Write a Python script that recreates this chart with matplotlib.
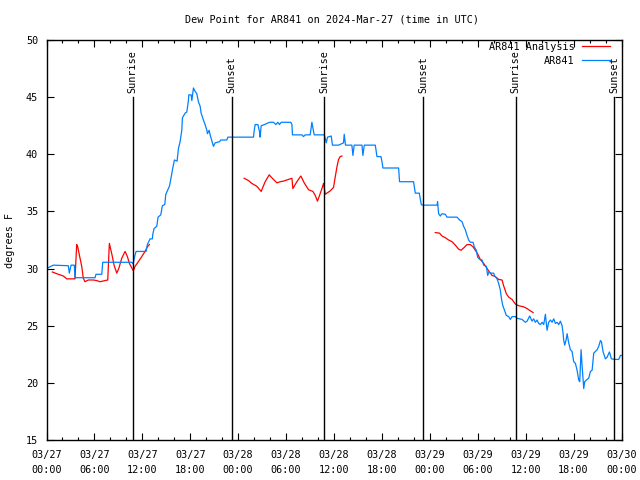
import matplotlib
matplotlib.use("Agg")
import matplotlib.pyplot as plt
import matplotlib.dates as mdates
import numpy as np

plt.rcParams['font.family'] = ['DejaVu Sans Mono']
plt.rcParams['font.size'] = 7.3

# Start of the plotted period (UTC); all times below are hours from it
start = np.datetime64('2024-03-27T00:00')
end = np.datetime64('2024-03-30T00:00')

# AR841 observations (hours, dew point F)
obs_hours = [0.0, 0.85, 2.73, 2.86, 3.07, 3.48, 3.57, 6.08, 6.2, 6.92, 7.04, 10.68, 10.84, 11.09,
             11.22, 12.47, 12.63, 12.97, 13.26, 13.31, 13.47, 13.81, 13.97, 14.31, 14.51, 14.81,
             14.94, 15.39, 15.56, 15.81, 16.02, 16.35, 16.52, 16.73, 16.94, 17.02, 17.36, 17.57,
             17.77, 17.82, 18.11, 18.2, 18.4, 18.61, 18.82, 19.02, 19.24, 19.36, 19.65, 19.86,
             20.08, 20.15, 20.36, 20.49, 20.7, 20.9, 21.12, 21.65, 21.83, 22.58, 22.71, 25.92,
             26.0, 26.13, 26.47, 26.67, 26.75, 26.88, 27.29, 27.92, 28.42, 28.72, 28.97, 29.17,
             29.39, 30.6, 30.73, 30.8, 31.98, 32.18, 32.39, 33.02, 33.23, 33.36, 33.52, 34.69,
             34.81, 35.03, 35.19, 35.65, 35.81, 36.57, 37.19, 37.28, 37.44, 38.24, 38.37, 38.53,
             39.5, 39.62, 39.79, 41.17, 41.38, 41.88, 42.01, 42.13, 44.09, 44.21, 45.96, 46.05,
             46.18, 46.68, 46.8, 46.93, 47.09, 48.9, 48.97, 49.1, 49.31, 49.52, 49.94, 50.15,
             51.4, 51.73, 52.03, 52.23, 52.44, 52.66, 52.86, 53.07, 53.41, 53.57, 53.82, 53.98,
             54.24, 54.54, 54.74, 55.08, 55.24, 55.41, 55.66, 55.99, 56.12, 56.42, 56.62, 56.83,
             56.96, 57.12, 57.33, 57.58, 57.87, 58.08, 58.3, 58.71, 58.92, 59.55, 59.96, 60.18,
             60.5, 60.8, 61.0, 61.22, 61.43, 61.63, 61.84, 62.06, 62.26, 62.47, 62.68, 62.88,
             63.1, 63.31, 63.51, 63.72, 63.93, 64.14, 64.35, 64.56, 64.69, 64.76, 64.89, 65.06,
             65.19, 65.39, 65.6, 65.81, 66.02, 66.23, 66.44, 66.64, 66.77, 66.94, 67.07, 67.27,
             67.39, 67.69, 67.89, 68.11, 68.32, 68.52, 68.73, 68.95, 69.15, 69.36, 69.49, 69.7,
             69.99, 70.2, 70.49, 70.74, 71.24, 71.65, 71.87, 71.99]
obs_dewpt = [30.0, 30.3, 30.25, 29.6, 30.3, 30.3, 29.2, 29.2, 29.5, 29.5, 30.55, 30.55, 30.4, 31.2,
             31.5, 31.5, 32.1, 32.6, 32.6, 33.0, 33.5, 33.7, 34.5, 34.7, 35.5, 35.6,
             36.5, 37.2, 37.8, 38.8, 39.5, 39.4, 40.5, 41.1, 42.1, 43.2, 43.6, 43.7,
             44.7, 45.2, 45.2, 44.7, 45.8, 45.5, 45.3, 44.6, 44.2, 43.6, 43.0, 42.6,
             42.1, 41.8, 42.1, 41.7, 41.2, 40.7, 41.0, 41.1, 41.25, 41.25, 41.5, 41.5,
             42.05, 42.6, 42.6, 42.0, 41.5, 42.5, 42.6, 42.8, 42.8, 42.6, 42.8, 42.6,
             42.8, 42.8, 42.6, 41.7, 41.7, 41.55, 41.7, 41.7, 42.8, 42.3, 41.7, 41.7,
             41.65, 41.0, 41.5, 41.6, 40.8, 40.8, 41.0, 41.75, 40.8, 40.8, 39.9, 40.8,
             40.8, 39.9, 40.8, 40.8, 39.8, 39.8, 39.35, 38.8, 38.8, 37.6, 37.6, 37.2,
             36.6, 36.6, 36.1, 35.6, 35.55, 35.55, 35.85, 34.8, 34.6, 34.8, 34.75, 34.5,
             34.5, 34.25, 34.1, 33.7, 33.4, 32.9, 32.5, 32.3, 32.3, 31.9, 31.6, 31.0,
             30.8, 30.75, 30.3, 30.2, 29.4, 29.7, 29.6, 29.6, 29.35, 29.1, 28.7, 28.1,
             27.4, 26.8, 26.4, 25.9, 25.8, 25.55, 25.8, 25.8, 25.65, 25.55, 25.3, 25.4,
             25.85, 25.4, 25.6, 25.3, 25.5, 25.2, 25.1, 25.3, 25.1, 26.0, 24.6, 25.3,
             25.5, 25.3, 25.6, 25.2, 25.3, 25.1, 25.4, 25.0, 24.3, 23.75, 23.3, 23.75,
             24.3, 23.5, 22.9, 22.75, 21.85, 21.7, 21.1, 20.25, 20.1, 22.9, 21.45, 19.5,
             20.1, 20.3, 20.4, 21.0, 21.1, 22.6, 22.75, 22.9, 23.2, 23.7, 23.6, 22.7,
             22.1, 22.25, 22.7, 22.1, 22.05, 22.05, 22.4, 22.4]

# AR841 Analysis, three separate pieces
ana1_hours = [0.73, 1.48, 2.11, 2.53, 3.57, 3.78, 3.91, 4.2, 4.41, 4.61, 4.82, 5.24, 5.86, 6.29,
              6.7, 7.33, 7.67, 7.87, 8.17, 8.46, 8.8, 9.05, 9.42, 9.84, 10.13, 10.38, 10.8,
              10.88, 11.09, 11.5, 11.93, 12.34, 12.63, 12.88]
ana1_dewpt = [29.7, 29.5, 29.35, 29.1, 29.1, 32.1, 31.9, 30.9, 30.2, 29.15, 28.85, 29.0, 29.0, 28.95,
              28.85, 28.95, 29.0, 32.2, 31.3, 30.3, 29.6, 30.0, 30.9, 31.5, 31.05, 30.45, 29.9,
              29.8, 30.2, 30.6, 31.05, 31.5, 31.9, 32.1]
ana2_hours = [24.75, 25.29, 25.71, 26.34, 26.88, 27.38, 27.88, 28.42, 28.85, 29.26, 29.67, 30.3,
              30.73, 30.85, 31.35, 31.85, 32.27, 32.81, 33.36, 33.65, 33.93, 34.19, 34.49, 34.69,
              34.9, 35.53, 35.94, 36.15, 36.37, 36.57, 36.78, 36.99]
ana2_dewpt = [37.9, 37.7, 37.45, 37.2, 36.75, 37.6, 38.2, 37.8, 37.5, 37.6, 37.65, 37.8,
              37.9, 37.0, 37.6, 38.1, 37.5, 36.9, 36.75, 36.4, 35.9, 36.4, 37.0, 37.45,
              36.5, 36.8, 37.1, 38.0, 38.9, 39.55, 39.8, 39.85]
ana3_hours = [48.68, 49.22, 49.52, 49.94, 50.35, 50.78, 51.19, 51.6, 51.9, 52.23, 52.66, 53.07,
              53.41, 53.7, 53.98, 54.32, 54.74, 55.08, 55.36, 55.79, 56.2, 56.62, 57.04, 57.24,
              57.58, 57.87, 58.3, 58.71, 59.12, 59.75, 60.18, 60.59, 60.93]
ana3_dewpt = [33.15, 33.1, 32.85, 32.7, 32.5, 32.35, 32.05, 31.7, 31.6, 31.8, 32.1, 32.1,
              31.9, 31.6, 31.3, 30.8, 30.45, 30.1, 29.8, 29.4, 29.3, 29.05, 29.0, 28.5,
              27.8, 27.5, 27.3, 26.9, 26.75, 26.65, 26.5, 26.3, 26.15]

# Sunrise / sunset markers (hours from start)
sun_hours = [10.78, 23.18, 34.75, 47.2, 58.73, 71.1]
sun_labels = ["Sunrise", "Sunset", "Sunrise", "Sunset", "Sunrise", "Sunset"]


def to_time(hours):
    secs = np.round(np.array(hours) * 3600).astype(int)
    return start + secs.astype('timedelta64[s]')


fig = plt.figure(figsize=(6.4, 4.8), dpi=100)
ax = fig.add_axes([46.5 / 640, 40 / 480, 575 / 640, 400 / 480])

ax.plot(to_time(ana1_hours), ana1_dewpt, color='#ff0000', lw=0.9, label='AR841 Analysis')
ax.plot(to_time(ana2_hours), ana2_dewpt, color='#ff0000', lw=0.9)
ax.plot(to_time(ana3_hours), ana3_dewpt, color='#ff0000', lw=0.9)
ax.plot(to_time(obs_hours), obs_dewpt, color='#0080ff', lw=0.9, label='AR841')

# Vertical sunrise / sunset lines with labels on top
for t, lab in zip(to_time(sun_hours), sun_labels):
    ax.plot([t, t], [15, 45], color='black', lw=1.0)
    ax.text(t, 45.4, lab, rotation=90, ha='center', va='bottom')

ax.set_xlim(start, end)
ax.set_ylim(15, 50)
ax.set_yticks(np.arange(15, 51, 5))

ax.xaxis.set_major_locator(mdates.HourLocator(byhour=[0, 6, 12, 18]))
ax.xaxis.set_minor_locator(mdates.HourLocator(interval=2))
ax.xaxis.set_major_formatter(mdates.DateFormatter('%m/%d\n%H:%M'))
for lbl in ax.get_xticklabels():
    lbl.set_linespacing(1.6)

ax.tick_params(which='both', direction='in', top=True, right=True, colors='black')
ax.tick_params(which='major', length=5, width=0.8, pad=7)
ax.tick_params(which='minor', length=2.5, width=0.8)
ax.tick_params(axis='y', pad=6)
for s in ax.spines.values():
    s.set_linewidth(1.0)

ax.legend(loc='upper right', bbox_to_anchor=((610 - 46.5) / 575, 1 - 2 / 400),
          markerfirst=False, frameon=False, handlelength=2.8, handletextpad=0.7,
          borderpad=0, borderaxespad=0, labelspacing=0.35)

fig.text(332 / 640, 1 - 20 / 480, "Dew Point for AR841 on 2024-Mar-27 (time in UTC)",
         ha='center', va='center')
fig.text(10 / 640, 0.5, "degrees F", rotation=90, ha='center', va='center')

plt.savefig("out.png", dpi=100)
